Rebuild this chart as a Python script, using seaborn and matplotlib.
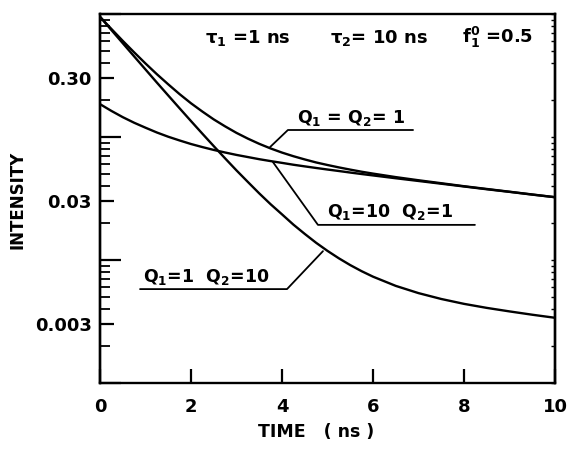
import numpy as np
import pandas as pd
import matplotlib
matplotlib.use("Agg")
import matplotlib.pyplot as plt
import seaborn as sns
from matplotlib.ticker import FixedLocator, NullFormatter, NullLocator

# ---- data ----
time_ns = [0.0, 0.25, 0.5, 0.75, 1.0, 1.25, 1.5, 1.75, 2.0, 2.25, 2.5, 2.75, 3.0,
           3.25, 3.5, 3.75, 4.0, 4.25, 4.5, 4.75, 5.0, 5.25, 5.5, 5.75, 6.0,
           6.5, 7.0, 7.5, 8.0, 8.5, 9.0, 9.5, 10.0]
q1_eq_q2_1 = [0.948, 0.756, 0.605, 0.488, 0.396, 0.324, 0.268, 0.223, 0.188, 0.161, 0.139,
              0.122, 0.108, 0.097, 0.088, 0.0807, 0.0747, 0.0698, 0.0657, 0.0621, 0.0592,
              0.0566, 0.0543, 0.0522, 0.0504, 0.0472, 0.0445, 0.0421, 0.0398, 0.0378,
              0.0359, 0.0341, 0.0324]
q1_10_q2_1 = [0.185, 0.163, 0.145, 0.1306, 0.119, 0.1088, 0.1005, 0.0937, 0.0877, 0.0828,
              0.0785, 0.0748, 0.0715, 0.0687, 0.066, 0.0637, 0.0616, 0.0595, 0.0577, 0.056,
              0.0544, 0.0529, 0.0514, 0.05, 0.0487, 0.0462, 0.0439, 0.0417, 0.0396, 0.0376,
              0.0358, 0.034, 0.0324]
q1_1_q2_10 = [0.949, 0.741, 0.579, 0.4525, 0.354, 0.277, 0.2175, 0.171, 0.1347, 0.1064,
              0.0843, 0.067, 0.0535, 0.0431, 0.0348, 0.0284, 0.0235, 0.0194, 0.0163, 0.0138,
              0.01186, 0.01032, 0.00909, 0.00811, 0.00732, 0.00616, 0.00538, 0.00482,
              0.0044, 0.00408, 0.00382, 0.00359, 0.00339]
series_names = ["Q1=Q2=1", "Q1=10 Q2=1", "Q1=1 Q2=10"]
x_ticks = [0, 2, 4, 6, 8, 10]
y_tick_values = [0.003, 0.03, 0.3]
y_tick_labels = ["0.003", "0.03", "0.30"]

df = pd.concat([
    pd.DataFrame({"t": time_ns, "I": vals, "series": name})
    for name, vals in zip(series_names, [q1_eq_q2_1, q1_10_q2_1, q1_1_q2_10])
], ignore_index=True)

sns.set_theme(style="ticks")
plt.rcParams["font.family"] = ["DejaVu Sans"]
plt.rcParams["mathtext.default"] = "regular"
plt.rcParams["mathtext.fontset"] = "dejavusans"
plt.rcParams["font.weight"] = "bold"
for k in ["text.color", "axes.labelcolor", "xtick.color", "ytick.color", "axes.edgecolor"]:
    plt.rcParams[k] = "black"

fig = plt.figure(figsize=(5.74, 4.5), dpi=100)
ax = fig.add_axes([100 / 574, 1 - 383 / 450, 455 / 574, 369 / 450])

sns.lineplot(data=df, x="t", y="I", hue="series",
             palette={n: "black" for n in series_names},
             legend=False, linewidth=1.7, ax=ax, sort=False, estimator=None)

ax.set_yscale("log")
ax.set_xlim(0, 10)
ax.set_ylim(0.001, 1)
ax.set_xlabel("")
ax.set_ylabel("")

for s in ax.spines.values():
    s.set_linewidth(1.7)
    s.set_color("black")

ax.set_xticks(x_ticks)
ax.set_xticklabels([str(v) for v in x_ticks])
ax.tick_params(axis="x", direction="in", length=10, width=1.6, pad=11,
               labelsize=13, colors="black")

ax.yaxis.set_major_locator(FixedLocator(y_tick_values))
ax.set_yticklabels(y_tick_labels)
minor_pos = [m * 10.0 ** e for e in (-3, -2, -1) for m in range(2, 10) if m != 3]
ax.yaxis.set_minor_locator(FixedLocator(minor_pos))
ax.yaxis.set_minor_formatter(NullFormatter())
ax.tick_params(axis="y", which="major", direction="in", length=10, width=1.6,
               pad=6, labelsize=13, colors="black")
ax.tick_params(axis="y", which="minor", direction="in", length=7, width=1.3,
               colors="black")

# long ticks at decades
sec = ax.secondary_yaxis("left")
sec.set_yticks([0.001, 0.01, 0.1, 1.0])
sec.yaxis.set_minor_locator(NullLocator())
sec.tick_params(direction="in", length=15, width=1.6, labelleft=False, colors="black")
sec.spines["left"].set_linewidth(1.7)

# small ticks on right edge
sec_r = ax.secondary_yaxis("right")
sec_r.set_yticks([0.001, 0.01, 0.1, 1.0])
sec_r.yaxis.set_minor_locator(FixedLocator(minor_pos))
sec_r.yaxis.set_minor_formatter(NullFormatter())
sec_r.tick_params(which="both", direction="in", length=3, width=1.0,
                  labelright=False, colors="black")
sec_r.spines["right"].set_linewidth(1.7)

# header parameters
ax.text(0.231, 0.921, r"$\tau_1$ =1 ns", transform=ax.transAxes, fontsize=13,
        ha="left", va="baseline")
ax.text(0.505, 0.921, r"$\tau_2$= 10 ns", transform=ax.transAxes, fontsize=13,
        ha="left", va="baseline")
ax.text(0.796, 0.921, r"f$_1^0$ =0.5", transform=ax.transAxes, fontsize=13,
        ha="left", va="baseline")

# curve labels with leader lines
ax.text(4.33, 0.130, r"Q$_1$ = Q$_2$= 1", fontsize=12.5, ha="left", va="baseline")
ax.plot([3.74, 4.13, 6.88], [0.083, 0.114, 0.114], color="black", lw=1.3)

ax.text(4.99, 0.0224, r"Q$_1$=10  Q$_2$=1", fontsize=12.5, ha="left", va="baseline")
ax.plot([3.80, 4.79, 8.24], [0.0626, 0.0193, 0.0193], color="black", lw=1.3)

ax.text(0.945, 0.00662, r"Q$_1$=1  Q$_2$=10", fontsize=12.5, ha="left", va="baseline")
ax.plot([4.90, 4.11, 0.88], [0.0118, 0.0058, 0.0058], color="black", lw=1.3)

fig.text(18 / 574, 1 - 200 / 450, "INTENSITY", rotation=90, ha="center",
         va="center", fontsize=12)
fig.text(316 / 574, 1 - 432 / 450, "TIME   ( ns )", ha="center", va="center",
         fontsize=12.5)

fig.savefig("out.png", dpi=100)
